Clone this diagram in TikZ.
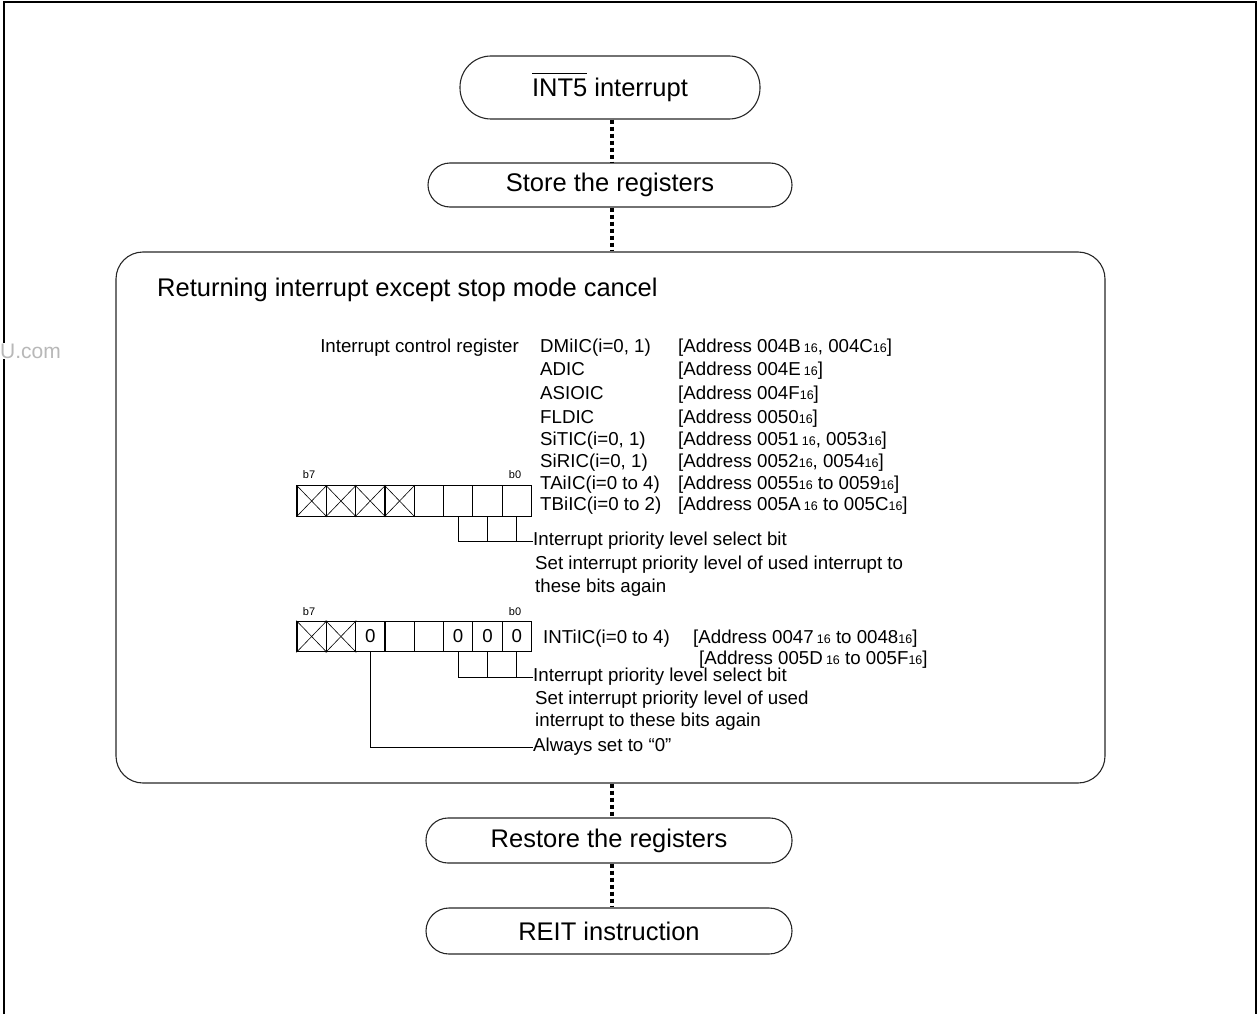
\documentclass[tikz,border=0pt]{standalone}
\usepackage{fontspec}
\setmainfont{Liberation Sans}
\usetikzlibrary{calc}
\newcommand{\hx}[1]{{\fontsize{12.5}{12.5}\selectfont #1}}
\newcommand{\ovbar}[1]{\setbox0\hbox{#1}\rlap{\rule[\dimexpr\ht0+5pt\relax]{\wd0}{1pt}}\box0\relax}
\begin{document}
\begin{tikzpicture}[x=1pt,y=-1pt,
  flowbox/.style={draw=black!85, line width=1.1pt, inner sep=0pt, font=\fontsize{25.5}{30}\selectfont},
  dotconn/.style={line width=4pt, dash pattern=on 4pt off 3pt},
  regtxt/.style={font=\fontsize{18.7}{22}\selectfont, inner sep=0pt, anchor=base west},
  leadtxt/.style={font=\fontsize{18.7}{22}\selectfont, inner sep=0pt, anchor=west},
  bitlbl/.style={font=\fontsize{11}{12}\selectfont, inner sep=0pt},
  cellbox/.style={draw, line width=1.2pt, minimum width=29.3pt, minimum height=30.5pt, inner sep=0pt, font=\fontsize{18.7}{22}\selectfont},
  xline/.style={line width=0.6pt},
  lead/.style={line width=0.8pt}]
\useasboundingbox (0,0) rectangle (1257,1014);
% outer frame
\draw[line width=2pt] (4,1014) -- (4,2) -- (1255.5,2) -- (1255.5,1014);
% watermark
\node[text=black!28, fill=white, font=\fontsize{21}{24}\selectfont, anchor=west, inner sep=1pt] (wm) at (-1,351) {U.com};

% flow boxes
\node[flowbox, rounded corners=31pt, minimum width=300pt, minimum height=63pt] (int5) at (610,87.5) {\ovbar{INT5} interrupt};
\node[flowbox, rounded corners=22pt, minimum width=364pt, minimum height=44pt] (store) at (610,185) {Store the registers};
\node[flowbox, rounded corners=27pt, minimum width=989pt, minimum height=531pt] (ret) at (610.5,517.5) {};
\node[flowbox, rounded corners=22pt, minimum width=366pt, minimum height=45pt] (restore) at (609,840.5) {Restore the registers};
\node[flowbox, rounded corners=23pt, minimum width=366pt, minimum height=46pt] (reit) at (609,931) {REIT instruction};

% dotted connectors
\draw[dotconn] ([xshift=2pt]int5.south) -- ([xshift=2pt]int5.south |- store.north);
\draw[dotconn] ([xshift=2pt]store.south) -- ([xshift=2pt]store.south |- ret.north);
\draw[dotconn] ([xshift=3pt]restore.north |- ret.south) -- ([xshift=3pt]restore.north);
\draw[dotconn] ([xshift=3pt]restore.south) -- ([xshift=3pt]reit.north);

% title
\node[font=\fontsize{25.5}{30}\selectfont, inner sep=0pt, anchor=base west] (title) at (157,296) {Returning interrupt except stop mode cancel};

% register list
\node[font=\fontsize{18.7}{22}\selectfont, inner sep=0pt, anchor=base east] (icr) at (519,352) {Interrupt control register};
\node[regtxt] (n1) at (540,352) {DMiIC(i=0, 1)};
\node[regtxt] (n2) at (540,375) {ADIC};
\node[regtxt] (n3) at (540,399.5) {ASIOIC};
\node[regtxt] (n4) at (540,423.5) {FLDIC};
\node[regtxt] (n5) at (540,445) {SiTIC(i=0, 1)};
\node[regtxt] (n6) at (540,467) {SiRIC(i=0, 1)};
\node[regtxt] (n7) at (540,489) {TAiIC(i=0 to 4)};
\node[regtxt] (n8) at (540,510) {TBiIC(i=0 to 2)};
\node[regtxt] (a1) at (678,352) {[Address 004B\,\hx{16}, 004C\hx{16}]};
\node[regtxt] (a2) at (678,375) {[Address 004E\,\hx{16}]};
\node[regtxt] (a3) at (678,399.5) {[Address 004F\hx{16}]};
\node[regtxt] (a4) at (678,423.5) {[Address 0050\hx{16}]};
\node[regtxt] (a5) at (678,445) {[Address 0051\,\hx{16}, 0053\hx{16}]};
\node[regtxt] (a6) at (678,467) {[Address 0052\hx{16}, 0054\hx{16}]};
\node[regtxt] (a7) at (678,489) {[Address 0055\hx{16} to 0059\hx{16}]};
\node[regtxt] (a8) at (678,510) {[Address 005A\,\hx{16} to 005C\hx{16}]};

% register 1
\foreach \i in {1,...,8} {
  \node[cellbox] (r1c\i) at ({297+29.3*(\i-0.5)},501) {};
}
\foreach \i in {1,...,4} {
  \draw[xline] (r1c\i.north west) -- (r1c\i.south east);
  \draw[xline] (r1c\i.north east) -- (r1c\i.south west);
}
\node[bitlbl] (r1b7) at (309,475) {b7};
\node[bitlbl] (r1b0) at (515,475) {b0};
\node[leadtxt] (sel1) at (533,541) {Interrupt priority level select bit};
\node[leadtxt] (set1a) at (535,565) {Set interrupt priority level of used interrupt to};
\node[leadtxt] (set1b) at (535,588) {these bits again};
\draw[lead] (r1c6.south) |- (sel1.west);
\draw[lead] (r1c7.south) -- (r1c7.south |- sel1.west);
\draw[lead] (r1c8.south) -- (r1c8.south |- sel1.west);

% register 2
\foreach \i/\t in {1/,2/,3/0,4/,5/,6/0,7/0,8/0} {
  \node[cellbox] (r2c\i) at ({297+29.3*(\i-0.5)},636.5) {\t};
}
\foreach \i in {1,2} {
  \draw[xline] (r2c\i.north west) -- (r2c\i.south east);
  \draw[xline] (r2c\i.north east) -- (r2c\i.south west);
}
\node[bitlbl] (r2b7) at (309,612) {b7};
\node[bitlbl] (r2b0) at (515,612) {b0};
\node[regtxt] (intic) at (543,643) {INTiIC(i=0 to 4)};
\node[regtxt] (b1) at (693,643) {[Address 0047\,\hx{16} to 0048\hx{16}]};
\node[regtxt] (b2) at (699,664) {[Address 005D\,\hx{16} to 005F\hx{16}]};
\node[leadtxt] (sel2) at (533,677) {Interrupt priority level select bit};
\node[leadtxt] (set2a) at (535,700) {Set interrupt priority level of used};
\node[leadtxt] (set2b) at (535,722) {interrupt to these bits again};
\node[leadtxt] (alw) at (533,747) {Always set to “0”};
\draw[lead] (r2c6.south) |- (sel2.west);
\draw[lead] (r2c7.south) -- (r2c7.south |- sel2.west);
\draw[lead] (r2c8.south) -- (r2c8.south |- sel2.west);
\draw[lead] (r2c3.south) |- (alw.west);
\end{tikzpicture}
\end{document}
